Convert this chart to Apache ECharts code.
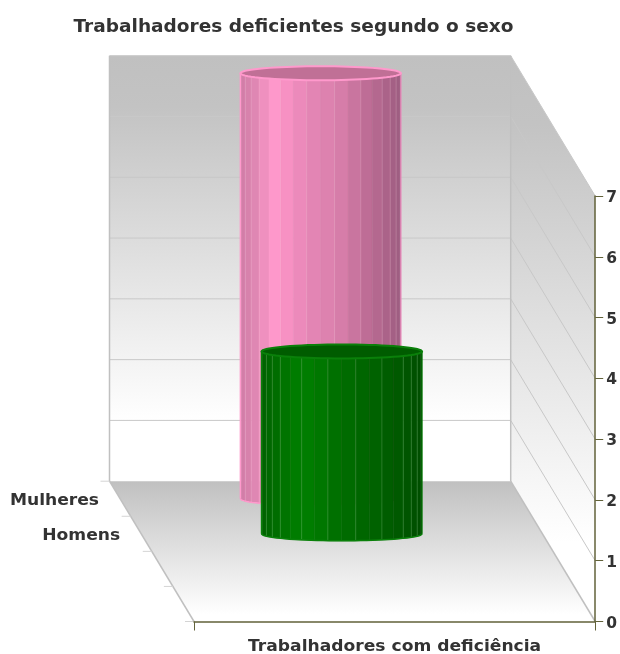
<!DOCTYPE html>
<html><head><meta charset="utf-8">
<style>html,body{margin:0;padding:0;background:#fff}#c{width:620px;height:654px}</style>
<script src="https://cdn.jsdelivr.net/npm/echarts@6/dist/echarts.min.js"></script>
</head><body><div id="c"></div>
<script>
const titleText = 'Trabalhadores deficientes segundo o sexo';
const categories = ['Trabalhadores com deficiência'];
const depthCategories = ['Mulheres', 'Homens'];
const mulheres = [7];
const homens = [3];
const yTicks = [0, 1, 2, 3, 4, 5, 6, 7];
const depthSlots = 4;

const FONT = '"DejaVu Sans"';
const DX = -84.5, DY = -140.3;
const textCol = '#333333';
const olive = '#62623a';
const labelFont = 'bold 16px '+FONT;
const labelScale = 1.07;

const pinkStops = [[0,'#cf7ca5'],[0.1,'#e088b4'],[0.2,'#ff99cc'],[0.28,'#f892c4'],[0.42,'#e586b6'],[0.6,'#da80ac'],[0.8,'#bc6c94'],[1,'#9c5c80']];
const greenStops = [[0,'#006200'],[0.25,'#008000'],[0.5,'#006d00'],[0.75,'#006000'],[1,'#004e00']];

function hex(c){return [1,3,5].map(i=>parseInt(c.substr(i,2),16));}
function shade(stops,p){
  for(let i=1;i<stops.length;i++){
    if(p<=stops[i][0]){
      const a=stops[i-1],b=stops[i],t=(p-a[0])/(b[0]-a[0]);
      const ca=hex(a[1]),cb=hex(b[1]);
      return 'rgb('+ca.map((v,k)=>Math.round(v+(cb[k]-v)*t)).join(',')+')';
    }
  }
  return stops[stops.length-1][1];
}
function wallGrad(){return {type:'linear',x:0,y:0,x2:0,y2:1,colorStops:[{offset:0,color:'#c0c0c0'},{offset:0.12,color:'#c3c3c3'},{offset:0.86,color:'#ffffff'},{offset:1,color:'#ffffff'}]};}
function floorGrad(){return {type:'linear',x:0,y:0,x2:0,y2:1,colorStops:[{offset:0,color:'#c0c0c0'},{offset:0.95,color:'#ffffff'},{offset:1,color:'#ffffff'}]};}

function scaledText(str,x,y,align,font,sx){
  return {type:'text',x:x,y:y,scaleX:sx,style:{text:str,x:0,y:0,align:align,verticalAlign:'middle',fill:textCol,font:font}};
}

function renderWalls(params, api){
  const xs = api.size([1,0])[0];
  const o = api.coord([0,0]);
  const xL = o[0]-xs/2, xR = o[0]+xs/2, y0 = o[1];
  const yTop = api.coord([0,yTicks[yTicks.length-1]])[1];
  const kids = [];
  const poly=(pts,fill)=>kids.push({type:'polygon',shape:{points:pts},style:{fill:fill}});
  const line=(a,b,c,w)=>kids.push({type:'line',shape:{x1:a[0],y1:a[1],x2:b[0],y2:b[1]},style:{stroke:c,lineWidth:w||1}});
  poly([[xL+DX,yTop+DY],[xR+DX,yTop+DY],[xR+DX,y0+DY],[xL+DX,y0+DY]],wallGrad());
  poly([[xR+DX,yTop+DY],[xR,yTop],[xR,y0],[xR+DX,y0+DY]],wallGrad());
  poly([[xL+DX,y0+DY],[xR+DX,y0+DY],[xR,y0],[xL,y0]],floorGrad());
  yTicks.forEach(v=>{
    if(v===0) return;
    const y=api.coord([0,v])[1];
    line([xL+DX,y+DY],[xR+DX,y+DY],'#c8c8c8',1);
    line([xR+DX,y+DY],[xR,y],'#c8c8c8',1);
  });
  line([xL+DX,y0+DY],[xL+DX,yTop+DY],'#c0c0c0',1.5);
  line([xR+DX,y0+DY],[xR+DX,yTop+DY],'#c0c0c0',1.5);
  line([xL+DX,y0+DY],[xL,y0],'#c0c0c0',1.5);
  line([xR+DX,y0+DY],[xR,y0],'#c0c0c0',1.5);
  for(let i=0;i<=depthSlots;i++){
    const d=i/depthSlots;
    line([xL+DX*d-9,y0+DY*d],[xL+DX*d,y0+DY*d],'#d4d4d4',1);
  }
  depthCategories.forEach((name,i)=>{
    const d=1-(i+0.5)/depthSlots;
    kids.push(scaledText(name,xL+DX*d-21,y0+DY*d+2,'right',labelFont,labelScale));
  });
  kids.push(scaledText(categories[0],o[0],y0+25,'center',labelFont,labelScale));
  return {type:'group',children:kids};
}

function cylinder(stops,capCol,edgeCol,glint){
  return function(params, api){
    const slot=api.value(2);
    const d=1-(slot+0.5)/depthSlots;
    const xs=api.size([1,0])[0];
    const base=api.coord([api.value(0),0]);
    const top=api.coord([api.value(0),api.value(1)]);
    const cx=base[0]+DX*d, by=base[1]+DY*d, ty=top[1]+DY*d;
    const rx=xs*0.2, ry=7;
    const kids=[], N=18;
    const pt=(t,y)=>[cx-rx*Math.cos(t),y+ry*Math.sin(t)];
    for(let i=0;i<N;i++){
      const a=Math.PI*i/N,b=Math.PI*(i+1)/N;
      const p=(2-Math.cos(a)-Math.cos(b))/4;
      const col=shade(stops,p);
      kids.push({type:'polygon',shape:{points:[pt(a,ty),pt(b,ty),pt(b,by),pt(a,by)]},style:{fill:col,stroke:col,lineWidth:0.5}});
      if(i>0 && i%2===0 || i===3 || i===15){
        const q1=pt(a,ty),q2=pt(a,by);
        kids.push({type:'line',shape:{x1:q1[0],y1:q1[1],x2:q2[0],y2:q2[1]},style:{stroke:glint,lineWidth:1}});
      }
    }
    const arc=[]; for(let i=0;i<=40;i++) arc.push(pt(Math.PI*i/40,by));
    kids.push({type:'polyline',shape:{points:arc},style:{stroke:edgeCol,lineWidth:1.5,fill:null}});
    const l1=pt(0,ty),l2=pt(0,by),r1=pt(Math.PI,ty),r2=pt(Math.PI,by);
    kids.push({type:'line',shape:{x1:l1[0],y1:l1[1],x2:l2[0],y2:l2[1]},style:{stroke:edgeCol,lineWidth:1.5}});
    kids.push({type:'line',shape:{x1:r1[0],y1:r1[1],x2:r2[0],y2:r2[1]},style:{stroke:edgeCol,lineWidth:1}});
    const cap=[]; for(let i=0;i<72;i++) cap.push(pt(2*Math.PI*i/72,ty));
    kids.push({type:'polygon',shape:{points:cap},style:{fill:capCol,stroke:edgeCol,lineWidth:2}});
    return {type:'group',children:kids};
  };
}

const chart=echarts.init(document.getElementById('c'),null,{renderer:'canvas'});
chart.setOption({
  animation:false,
  backgroundColor:'#fff',
  graphic:[{type:'text',x:293.5,y:27.5,scaleX:1.09,z:10,style:{text:titleText,x:0,y:0,align:'center',verticalAlign:'middle',fill:textCol,font:'bold 17px '+FONT}}],
  grid:{left:194,right:23,top:196,bottom:32.5,containLabel:false},
  xAxis:{type:'category',data:categories,z:5,
    axisLine:{show:true,lineStyle:{color:olive,width:1.5}},
    axisTick:{show:true,alignWithLabel:false,length:9,lineStyle:{color:olive}},
    axisLabel:{show:false},
    splitLine:{show:false}},
  yAxis:{type:'value',position:'right',min:0,max:7,interval:1,z:5,
    axisLine:{show:true,lineStyle:{color:olive,width:1.5}},
    axisTick:{show:true,length:8,lineStyle:{color:olive}},
    axisLabel:{margin:11,verticalAlign:'top',lineHeight:4,fontFamily:FONT,fontSize:15.5,fontWeight:'bold',color:textCol},
    splitLine:{show:false}},
  series:[
    {type:'custom',name:'walls',z:1,clip:false,silent:true,renderItem:renderWalls,encode:{x:0,y:1},data:[[0,0]]},
    {type:'custom',name:depthCategories[0],z:2,clip:false,renderItem:cylinder(pinkStops,'#c07096','#ff99cc','rgba(255,200,225,0.25)'),encode:{x:0,y:1},data:[[0,mulheres[0],0]]},
    {type:'custom',name:depthCategories[1],z:3,clip:false,renderItem:cylinder(greenStops,'#005c00','#0a800a','rgba(120,200,120,0.3)'),encode:{x:0,y:1},data:[[0,homens[0],1]]}
  ]
});
</script></body></html>
